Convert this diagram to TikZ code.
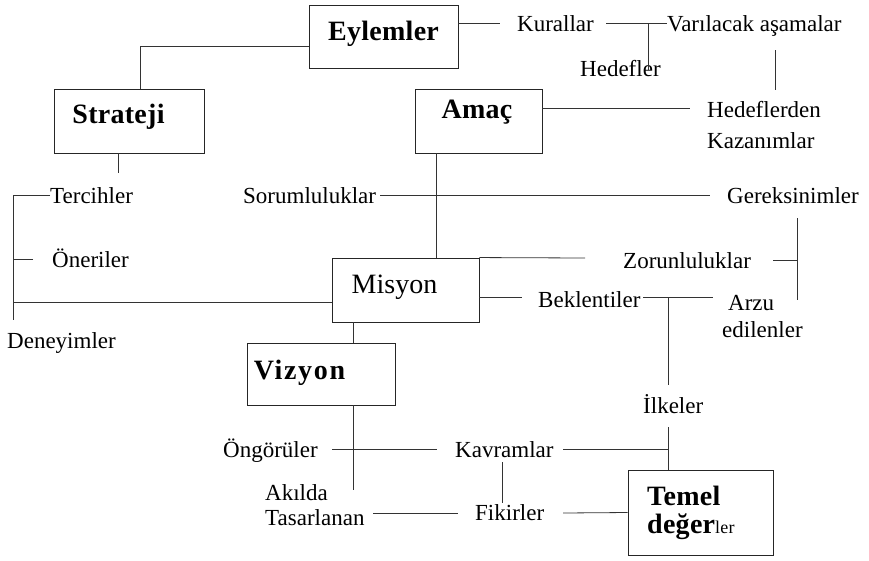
\documentclass[tikz,border=0pt]{standalone}
\usepackage{fontspec}
\setmainfont{Liberation Serif}
\newfontfamily\boxfont[LetterSpace=1]{Liberation Serif}
\newfontfamily\widefont[LetterSpace=6]{Liberation Serif}
\begin{document}
\begin{tikzpicture}[x=1pt,y=-1pt,
  box/.style={draw=black!85, line width=0.9pt, inner sep=0pt},
  lbl/.style={inner sep=0pt, anchor=base west, font=\fontsize{23}{26}\selectfont},
  btxt/.style={inner sep=0pt, anchor=base, font=\boxfont\bfseries\fontsize{28}{30}\selectfont},
  conn/.style={draw=black!80, line width=0.8pt}]
\useasboundingbox (0,0) rectangle (869,560);

% boxes
\node[box, minimum width=149pt, minimum height=63pt] (eyl) at (383.5,36.5) {};
\node[box, minimum width=150pt, minimum height=64pt] (str) at (129,121) {};
\node[box, minimum width=127pt, minimum height=64pt] (ama) at (478.5,121) {};
\node[box, minimum width=147pt, minimum height=64pt] (mis) at (405.5,290) {};
\node[box, minimum width=148pt, minimum height=62pt] (viz) at (321,374) {};
\node[box, minimum width=145pt, minimum height=85pt] (tem) at (700.5,512.5) {};

% box texts
\node[btxt] (eylt) at (383.5,40) {Eylemler};
\node[btxt] (strt) at (118.5,123) {Strateji};
\node[btxt] (amat) at (477,118) {Amaç};
\node[inner sep=0pt, anchor=base, font=\fontsize{28}{30}\selectfont] (mist) at (394.5,293) {Misyon};
\node[inner sep=0pt, anchor=base, font=\widefont\bfseries\fontsize{28}{30}\selectfont] (vizt) at (299.5,379) {Vizyon};
\node[btxt, anchor=base west] (temt1) at (647,505) {Temel};
\node[btxt, anchor=base west] (temt2) at (647,533) {değer{\mdseries\fontsize{18}{20}\selectfont ler}};

% labels
\node[lbl] (kur) at (517,31) {Kurallar};
\node[lbl] (var) at (667,31) {Varılacak aşamalar};
\node[lbl] (hed) at (580,76) {Hedefler};
\node[lbl] (hk1) at (707,117) {Hedeflerden};
\node[lbl] (hk2) at (707,148) {Kazanımlar};
\node[lbl] (sor) at (243,203) {Sorumluluklar};
\node[lbl] (ter) at (50,203) {Tercihler};
\node[lbl] (ger) at (727,203) {Gereksinimler};
\node[lbl] (one) at (52,267) {Öneriler};
\node[lbl] (zor) at (623,268) {Zorunluluklar};
\node[lbl] (bek) at (538,307) {Beklentiler};
\node[lbl] (arz1) at (728,310) {Arzu};
\node[lbl] (arz2) at (722,337) {edilenler};
\node[lbl] (den) at (7,348) {Deneyimler};
\node[lbl] (ilk) at (643,413) {İlkeler};
\node[lbl] (ong) at (223,457) {Öngörüler};
\node[lbl] (kav) at (455,457) {Kavramlar};
\node[lbl] (aki1) at (265,500) {Akılda};
\node[lbl] (aki2) at (265,525) {Tasarlanan};
\node[lbl] (fik) at (475,520) {Fikirler};

% free ends
\coordinate (kurL) at (500,23);
\coordinate (kurR) at (606,23);
\coordinate (varL) at (667,23);
\coordinate (hedT) at (648,70);
\coordinate (varB1) at (775,50);
\coordinate (varB2) at (775,90);
\coordinate (hkL) at (690,108);
\coordinate (sorR) at (380,195);
\coordinate (gerL) at (710,195);
\coordinate (zorL) at (585,258);
\coordinate (zorR) at (773,260);
\coordinate (brT) at (797,218);
\coordinate (brB) at (797,300);
\coordinate (bekL) at (522,297);
\coordinate (bekR) at (643,297);
\coordinate (arzL) at (713,297);
\coordinate (ilkT) at (668,385);
\coordinate (ilkB) at (668,427);
\coordinate (lftT) at (13,195);
\coordinate (lftB) at (13,320);
\coordinate (terL) at (50,195);
\coordinate (oneR) at (33,259);
\coordinate (strB) at (118,173);
\coordinate (vizB) at (353,490);
\coordinate (ongR) at (332,449);
\coordinate (kavL) at (437,449);
\coordinate (kavR) at (563,449);
\coordinate (kavB) at (502,462);
\coordinate (fikT) at (502,503);
\coordinate (tasR) at (373,513);
\coordinate (fikL) at (458,513);
\coordinate (fikR) at (563,513);
\coordinate (misL) at ([yshift=-12pt]mis.west);

% connectors
\draw[conn] ([yshift=-9.5pt]eyl.west) -| ([xshift=11pt]str.north);
\draw[conn] ([yshift=13.5pt]eyl.east) -- (kurL);
\draw[conn] (kurR) -- (varL);
\draw[conn] (kurR -| hedT) -- (hedT);
\draw[conn] (varB1) -- (varB2);
\draw[conn] ([yshift=13pt]ama.east) -- (hkL);
\draw[conn] ([xshift=-42.5pt]ama.south) -- ([xshift=30.5pt]mis.north);
\draw[conn] (sorR) -- (gerL);
\draw[conn] (mis.north east) -- (zorL);
\draw[conn] (zorR) -- (zorR -| brT);
\draw[conn] (brT) -- (brB);
\draw[conn] ([yshift=-7pt]mis.east) -- (bekL);
\draw[conn] (bekR) -- (arzL);
\draw[conn] (bekR -| ilkT) -- (ilkT);
\draw[conn] (ilkB) -- ([xshift=-32.5pt]tem.north);
\draw[conn] (misL) -- (misL -| lftT);
\draw[conn] (terL) -- (lftT) -- (lftB);
\draw[conn] (oneR) -- (oneR -| lftT);
\draw[conn] ([xshift=-11pt]str.south) -- (strB);
\draw[conn] ([xshift=-52.5pt]mis.south) -- ([xshift=32pt]viz.north);
\draw[conn] ([xshift=32pt]viz.south) -- (vizB);
\draw[conn] (ongR) -- (kavL);
\draw[conn] (kavR) -- (kavR -| ilkB);
\draw[conn] (kavB) -- (fikT);
\draw[conn] (tasR) -- (fikL);
\draw[conn] (fikR) -- (tem.west);
\end{tikzpicture}
\end{document}
